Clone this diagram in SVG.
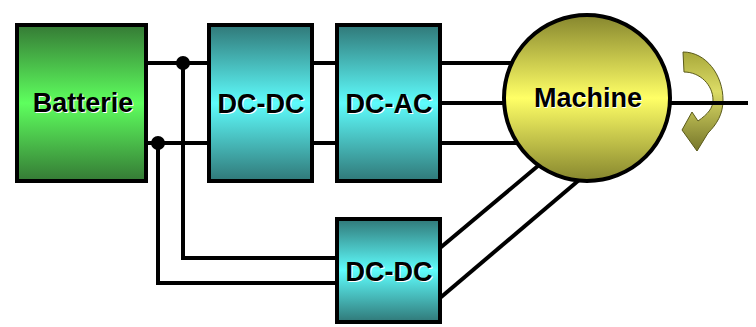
<svg xmlns="http://www.w3.org/2000/svg" width="756" height="327" viewBox="0 0 756 327">
  <defs>
    <linearGradient id="gGreen" x1="0" y1="0" x2="0" y2="1">
      <stop offset="0" stop-color="#357a35"/>
      <stop offset="0.5" stop-color="#5eff5e"/>
      <stop offset="1" stop-color="#357a35"/>
    </linearGradient>
    <linearGradient id="gCyan" x1="0" y1="0" x2="0" y2="1">
      <stop offset="0" stop-color="#307878"/>
      <stop offset="0.5" stop-color="#5efcfc"/>
      <stop offset="1" stop-color="#307878"/>
    </linearGradient>
    <linearGradient id="gYellow" x1="0" y1="0" x2="0" y2="1">
      <stop offset="0" stop-color="#86862e"/>
      <stop offset="0.5" stop-color="#ffff66"/>
      <stop offset="1" stop-color="#86862e"/>
    </linearGradient>
    <linearGradient id="gArrow" x1="0" y1="0" x2="0" y2="1">
      <stop offset="0" stop-color="#a8a83a"/>
      <stop offset="0.4" stop-color="#dcdc66"/>
      <stop offset="1" stop-color="#76762a"/>
    </linearGradient>
  </defs>
  <style>
    .box { stroke: #000; stroke-width: 4; }
    .wire { stroke: #000; stroke-width: 4; fill: none; stroke-linejoin: miter; }
    .lbl { font-family: "Liberation Sans", Arial, sans-serif; font-weight: bold; font-size: 27px; text-anchor: middle; }
    .halo { fill: #fff; }
    .ink { fill: #000; }
  </style>
  <rect width="756" height="327" fill="#fff"/>

  <g id="connectors">
    <line class="wire" x1="146" y1="63" x2="209" y2="63"/>
    <line class="wire" x1="146" y1="143" x2="209" y2="143"/>
    <line class="wire" x1="312" y1="63" x2="337" y2="63"/>
    <line class="wire" x1="312" y1="143" x2="337" y2="143"/>
    <line class="wire" x1="440" y1="63" x2="560" y2="63"/>
    <line class="wire" x1="440" y1="103" x2="560" y2="103"/>
    <line class="wire" x1="440" y1="143" x2="560" y2="143"/>
    <polyline class="wire" points="183,63 183,258 337,258"/>
    <polyline class="wire" points="158,143 158,283 337,283"/>
    <line class="wire" x1="440" y1="248" x2="545" y2="160"/>
    <line class="wire" x1="440" y1="298" x2="585" y2="175"/>
    <circle cx="183" cy="63" r="7" fill="#000"/>
    <circle cx="158" cy="143" r="7" fill="#000"/>
  </g>

  <g id="batterie">
    <rect class="box" x="17" y="25" width="129" height="156" fill="url(#gGreen)"/>
    <text class="lbl halo" x="84" y="113">Batterie</text>
    <text class="lbl ink" x="83" y="112">Batterie</text>
  </g>

  <g id="dcdc1">
    <rect class="box" x="209" y="25" width="103" height="156" fill="url(#gCyan)"/>
    <text class="lbl halo" x="262" y="114">DC-DC</text>
    <text class="lbl ink" x="261" y="113">DC-DC</text>
  </g>

  <g id="dcac">
    <rect class="box" x="337" y="25" width="103" height="156" fill="url(#gCyan)"/>
    <text class="lbl halo" x="390" y="114">DC-AC</text>
    <text class="lbl ink" x="389" y="113">DC-AC</text>
  </g>

  <g id="dcdc2">
    <rect class="box" x="337" y="219" width="103" height="103" fill="url(#gCyan)"/>
    <text class="lbl halo" x="390" y="282">DC-DC</text>
    <text class="lbl ink" x="389" y="281">DC-DC</text>
  </g>

  <g id="rotation">
    <path d="M683 52 C706 52 723 75 723 100 C723 114 717 124 708 133 L697 151 L682 130 L692 112 L698 121 C708 114 713 108 713 100 C713 85 700 72 684 72 Z" fill="url(#gArrow)" stroke="#5a5a1a" stroke-width="1"/>
  </g>

  <g id="shaft">
    <line class="wire" x1="660" y1="103" x2="748" y2="103"/>
  </g>

  <g id="machine">
    <circle cx="587" cy="98" r="83" fill="url(#gYellow)" stroke="#000" stroke-width="4"/>
    <text class="lbl halo" x="589" y="108">Machine</text>
    <text class="lbl ink" x="588" y="107">Machine</text>
  </g>
</svg>
